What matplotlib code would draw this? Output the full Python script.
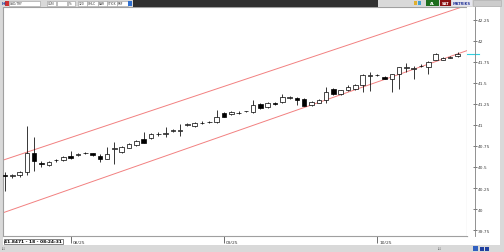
import numpy as np
import matplotlib
matplotlib.use('Agg')
import matplotlib.pyplot as plt
from matplotlib.patches import Rectangle
from matplotlib.transforms import blended_transform_factory

# daily USD/TRY candles
opens = [40.40, 40.39, 40.40, 40.44, 40.665, 40.55, 40.525, 40.58, 40.58, 40.63,
         40.645, 40.662, 40.66, 40.635, 40.595, 40.71, 40.68, 40.725, 40.76, 40.83,
         40.84, 40.89, 40.89, 40.93, 40.93, 41.00, 40.99, 41.02, 41.03, 41.03,
         41.14, 41.13, 41.14, 41.16, 41.15, 41.25, 41.21, 41.255, 41.27, 41.32,
         41.32, 41.31, 41.235, 41.265, 41.29, 41.43, 41.37, 41.41, 41.43, 41.475,
         41.585, 41.59, 41.57, 41.545, 41.605, 41.68, 41.66, 41.70, 41.685, 41.775,
         41.775, 41.80, 41.82]
highs = [40.44, 40.42, 40.45, 40.99, 40.86, 40.57, 40.57, 40.60, 40.63, 40.69,
         40.66, 40.68, 40.67, 40.65, 40.74, 40.80, 40.75, 40.78, 40.82, 40.915,
         40.90, 40.91, 40.97, 40.95, 41.01, 41.02, 41.03, 41.04, 41.05, 41.18,
         41.15, 41.16, 41.16, 41.17, 41.29, 41.26, 41.27, 41.27, 41.37, 41.34,
         41.33, 41.32, 41.28, 41.31, 41.445, 41.44, 41.42, 41.47, 41.49, 41.60,
         41.63, 41.61, 41.58, 41.61, 41.69, 41.74, 41.70, 41.72, 41.76, 41.85,
         41.81, 41.815, 41.86]
lows = [40.22, 40.37, 40.38, 40.40, 40.455, 40.50, 40.51, 40.56, 40.57, 40.60,
        40.63, 40.65, 40.63, 40.56, 40.59, 40.535, 40.67, 40.72, 40.75, 40.78,
        40.83, 40.87, 40.855, 40.92, 40.87, 40.99, 40.98, 41.01, 41.02, 41.02,
        41.09, 41.12, 41.13, 41.15, 41.14, 41.19, 41.20, 41.24, 41.26, 41.31,
        41.24, 41.22, 41.22, 41.26, 41.26, 41.36, 41.36, 41.40, 41.42, 41.39,
        41.405, 41.58, 41.54, 41.39, 41.43, 41.625, 41.545, 41.69, 41.60, 41.77,
        41.77, 41.79, 41.81]
closes = [40.39, 40.40, 40.435, 40.665, 40.57, 40.54, 40.56, 40.585, 40.62, 40.61,
          40.65, 40.668, 40.645, 40.595, 40.655, 40.72, 40.74, 40.77, 40.81, 40.79,
          40.89, 40.895, 40.905, 40.935, 40.935, 41.005, 41.02, 41.025, 41.035, 41.09,
          41.095, 41.15, 41.145, 41.165, 41.235, 41.20, 41.255, 41.25, 41.33, 41.33,
          41.29, 41.23, 41.275, 41.30, 41.39, 41.37, 41.41, 41.455, 41.475, 41.59,
          41.588, 41.595, 41.545, 41.60, 41.685, 41.685, 41.675, 41.705, 41.75, 41.84,
          41.80, 41.805, 41.8471]

# trend channel (start / end values at channel_x)
channel_x = [-0.3, 63.3]
channel_upper = [40.58, 42.42]
channel_lower = [39.955, 41.882]

month_idx = [9, 30, 51]
month_labels = ['08/25', '09/25', '10/25']
yticks = [39.75, 40, 40.25, 40.5, 40.75, 41, 41.25, 41.5, 41.75, 42, 42.25]
ytick_labels = ['39.75', '40', '40.25', '40.5', '40.75', '41', '41.25', '41.5',
                '41.75', '42', '42.25']
status_text = '41.8471 - 18 - 08:24:31'

W, H = 504, 253
fig = plt.figure(figsize=(W / 100, H / 100), dpi=100, facecolor='#d9d9d9')


def px_axes(x0, y0, x1, y1, **kw):
    return fig.add_axes([x0 / W, 1 - y1 / H, (x1 - x0) / W, (y1 - y0) / H], **kw)


YLIM = (39.68, 42.40)
XLIM = (-0.27, 63.3)
small = 3.2

# --- main price panel
ax = px_axes(3, 8, 467, 237)
ax.set_facecolor('white')
x = np.arange(len(closes))
o = np.array(opens)
c = np.array(closes)
up = c >= o
ax.vlines(x, lows, highs, color='black', lw=0.55, zorder=2)
ax.bar(x, np.where(np.abs(c - o) < 0.004, 0.004, c - o), bottom=o, width=0.62,
       color=np.where(up, 'white', 'black'), edgecolor='black', lw=0.5, zorder=3)
ax.plot(channel_x, channel_upper, color='#f28080', lw=0.7, zorder=1)
ax.plot(channel_x, channel_lower, color='#f28080', lw=0.7, zorder=1)
ax.set_xlim(*XLIM)
ax.set_ylim(*YLIM)
ax.set_yticks([])
ax.set_xticks(month_idx)
ax.set_xticklabels([])
ax.tick_params(axis='x', direction='out', length=5, width=0.5, color='#333333')
for s in ax.spines.values():
    s.set_color('#a0a0a0')
    s.set_linewidth(0.8)
tr = blended_transform_factory(ax.transData, ax.transAxes)
for i, lab in zip(month_idx, month_labels):
    ax.text(i + 0.25, -0.018, lab, transform=tr, fontsize=small, va='top',
            ha='left', color='#333333')

# status box bottom-left
ax.text(0.003, -0.015, status_text, transform=ax.transAxes, fontsize=small,
        va='top', ha='left', color='black', fontweight='bold',
        bbox=dict(boxstyle='square,pad=0.15', fc='white', ec='#555555', lw=0.5))

# --- price scale
ay = px_axes(467, 8, 500, 237)
ay.set_facecolor('white')
ay.set_ylim(*YLIM)
ay.set_xlim(0, 1)
ay.set_xticks([])
for k in ['left', 'top', 'bottom']:
    ay.spines[k].set_visible(False)
ay.spines['right'].set_position(('axes', 0.24))
ay.spines['right'].set_color('#808080')
ay.spines['right'].set_linewidth(0.6)
ay.yaxis.tick_right()
ay.set_yticks(yticks)
ay.set_yticklabels(ytick_labels)
ay.tick_params(axis='y', direction='inout', length=3, width=0.5, pad=0.5,
               labelsize=small, colors='#444444')
ay.axhline(closes[-1], xmin=0, xmax=0.35, color='#30d0e0', lw=0.8)

# --- strip under the chart
strip = px_axes(3, 237, 500, 246)
strip.set_facecolor('white')
strip.set_xticks([]); strip.set_yticks([])
for s in strip.spines.values():
    s.set_visible(False)
strip.set_zorder(-1)

# --- top toolbar
tb = px_axes(0, 0, W, 8)
tb.set_xlim(0, W); tb.set_ylim(8, 0)
tb.axis('off')
tb.add_patch(Rectangle((0, 0), W, 8, fc='#d9d9d9', ec='none'))
tb.text(1.5, 4.3, 'H', fontsize=small, color='#1a3a9a', va='center', fontweight='bold')
tb.add_patch(Rectangle((5, 1.5), 3.5, 5, fc='#d03030', ec='none'))
for x0, x1, t in [(9, 40, 'USD/TRY'), (47, 56, 'GÜN'), (57, 67, ''), (68, 75, '%'),
                  (78, 87, '120'), (87, 98, 'OHLC'), (98, 107, 'BAR'),
                  (107, 117, 'STICK'), (117, 128, 'PRF')]:
    tb.add_patch(Rectangle((x0, 1.5), x1 - x0, 5, fc='white', ec='#9a9a9a', lw=0.4))
    if t:
        tb.text(x0 + 1, 4.2, t, fontsize=2.2, va='center', color='#333333')
tb.add_patch(Rectangle((128, 1.5), 4, 5, fc='#3070d0', ec='none'))
tb.add_patch(Rectangle((133, 0.5), 245, 7, fc='#303030', ec='none'))
tb.add_patch(Rectangle((414, 2), 3, 4, fc='#e0b030', ec='none'))
tb.add_patch(Rectangle((418, 2), 3, 4, fc='#40a0d0', ec='none'))
tb.add_patch(Rectangle((426, 1), 13, 6, fc='#1d6e1d', ec='none'))
tb.text(432.5, 4.2, 'AL', fontsize=2.6, ha='center', va='center', color='white',
        fontweight='bold')
tb.add_patch(Rectangle((440, 1), 11, 6, fc='#8a1010', ec='none'))
tb.text(445.5, 4.2, 'SAT', fontsize=2.6, ha='center', va='center', color='white',
        fontweight='bold')
tb.add_patch(Rectangle((452, 1), 20, 6, fc='#e6e6ee', ec='none'))
tb.text(462, 4.2, 'MATRIKS', fontsize=2.6, ha='center', va='center',
        color='#2a3a9a', fontweight='bold')
tb.add_patch(Rectangle((473, 1), 28, 6, fc='#cccccc', ec='#aaaaaa', lw=0.4))

# --- bottom status strip
bt = px_axes(0, 246, W, H)
bt.set_xlim(0, W); bt.set_ylim(7, 0)
bt.axis('off')
bt.text(2, 3.5, 'ﺍﻟﻠ', fontsize=small, color='#777777', va='center')
bt.text(438, 3.5, 'ﺍﻟﻠ', fontsize=small, color='#777777', va='center')
bt.add_patch(Rectangle((473, 1), 5, 5, fc='#3060c0', ec='none'))
bt.add_patch(Rectangle((480, 1.5), 4, 4, fc='#2040a0', ec='none'))
bt.add_patch(Rectangle((485, 1.5), 4, 4, fc='#2040a0', ec='none'))

fig.savefig('out.png', dpi=100, facecolor=fig.get_facecolor())
